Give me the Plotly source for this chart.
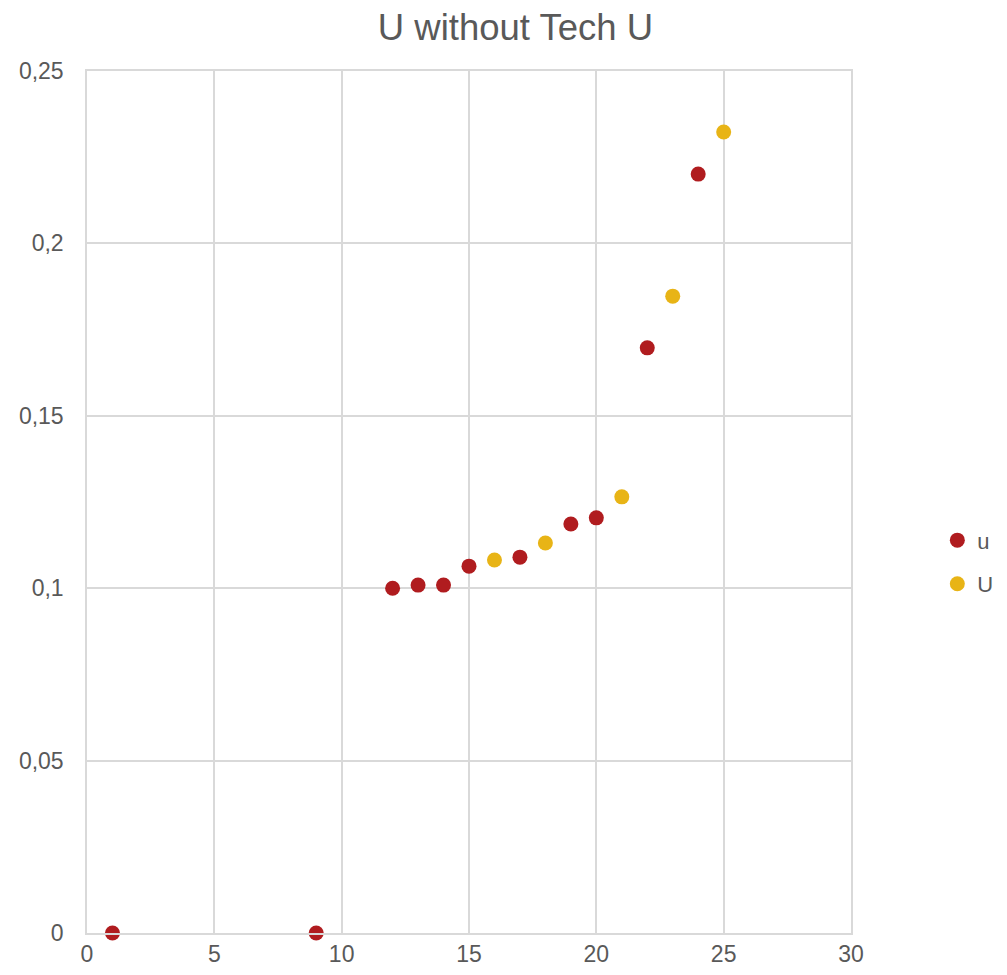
import plotly.graph_objects as go

u_x = [1, 9, 12, 13, 14, 15, 17, 19, 20, 22, 24]
u_y = [0.0, 0.0, 0.1000, 0.1009, 0.1009, 0.1064, 0.1090, 0.1186, 0.1204, 0.1697, 0.2201]
U_x = [16, 18, 21, 23, 25]
U_y = [0.1082, 0.1131, 0.1265, 0.1847, 0.2323]

fig = go.Figure()
fig.add_trace(go.Scatter(x=u_x, y=u_y, mode="markers", name="u", legendgroup="a",
                         marker=dict(color="#B01C1F", size=15), cliponaxis=False))
fig.add_trace(go.Scatter(x=U_x, y=U_y, mode="markers", name="U", legendgroup="b",
                         marker=dict(color="#E8B416", size=15), cliponaxis=False))

fig.update_layout(
    width=999, height=967,
    margin=dict(l=79, r=156, t=63, b=42, autoexpand=False),
    paper_bgcolor="white", plot_bgcolor="white",
    separators=", ",
    font=dict(family="Liberation Sans, Arial, sans-serif", size=23, color="#595959"),
    title=dict(text="U without Tech U", x=0.508, xanchor="center", y=0.980, yanchor="middle",
               font=dict(size=36.5, color="#595959")),
    xaxis=dict(range=[0, 30], dtick=5, showgrid=True, gridcolor="#d9d9d9", gridwidth=1.5,
               zeroline=False, showline=True, mirror=True, linecolor="#d9d9d9", linewidth=1.5,
               ticks="", ticklabelstandoff=0, automargin=False),
    yaxis=dict(range=[0, 0.25], dtick=0.05, showgrid=True, gridcolor="#d9d9d9", gridwidth=1.5,
               zeroline=False, showline=True, mirror=True, linecolor="#d9d9d9", linewidth=1.5,
               ticks="", ticklabelstandoff=17, automargin=False),
    legend=dict(x=1.113, xanchor="left", y=0.43, yanchor="middle", tracegroupgap=12,
                font=dict(size=22, color="#595959")),
    showlegend=True,
)
fig.write_html("out.html")
